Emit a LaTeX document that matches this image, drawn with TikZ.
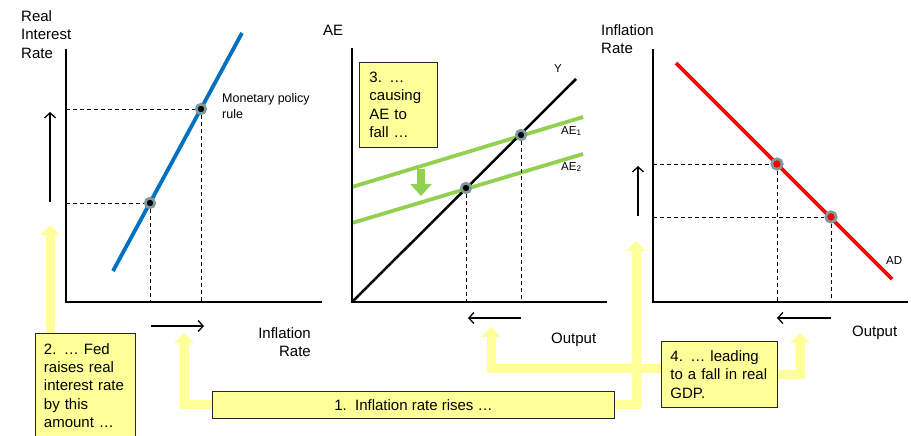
\documentclass[tikz,border=0pt]{standalone}
\usepackage{fontspec}
\setmainfont{Liberation Sans}
\usetikzlibrary{arrows.meta,positioning}
\definecolor{notefill}{HTML}{FFFF99}
\definecolor{notelink}{HTML}{FFFF99}
\definecolor{ruleblue}{HTML}{0070C0}
\definecolor{aegreen}{HTML}{92D050}
\definecolor{ringgray}{HTML}{7F9A9C}
\tikzset{
	axis/.style={line width=2pt},
	curve/.style={line width=3.8pt},
	guide/.style={line width=0.8pt, dash pattern=on 4pt off 3pt},
	moveshift/.style={line width=1.3pt, -{Straight Barb[length=5pt,width=11pt]}},
	link/.style={notelink, line width=9pt, -{Triangle[length=10pt,width=19pt]}},
	drop/.style={aegreen, line width=8pt, -{Triangle[length=12pt,width=21pt]}},
	note/.style={draw=black!85, fill=notefill, line width=0.9pt, align=left, font=\fontsize{15}{18.3}\selectfont},
	dot/.style={circle, fill=black, draw=ringgray, line width=2.7pt, inner sep=0pt, minimum size=9.5pt},
	reddot/.style={dot, fill=red, minimum size=10.5pt},
	lbl/.style={inner sep=0pt, font=\fontsize{15}{18.5}\selectfont},
	small/.style={inner sep=0pt, font=\fontsize{12.5}{16}\selectfont, align=left},
	tiny/.style={inner sep=0pt, font=\fontsize{11.5}{14}\selectfont},
}
\begin{document}
\begin{tikzpicture}[x=1pt,y=-1pt]
	\useasboundingbox (0,0) rectangle (911,436);
	% rate panel
	\coordinate (O1) at (66,302);
	\coordinate (T1) at (66,49);
	\coordinate (E1) at (322,302);
	\coordinate (MPa) at (113,271);
	\coordinate (MPb) at (242,33);
	\draw [curve, ruleblue] (MPa)--(MPb);
	\draw [axis] (T1)--(O1)--(E1);
	\node [dot] (A1) at (150,203) {};
	\node [dot] (B1) at (201,109) {};
	\draw [guide] (O1 |- A1)--(A1) (A1)--(A1 |- O1);
	\draw [guide] (O1 |- B1)--(B1) (B1)--(B1 |- O1);
	\node [lbl, anchor=north west, align=left] (ylab1) at (21,10) {Real\\Interest\\Rate};
	\node [lbl, anchor=north east, align=right] (xlab1) at (311,327) {Inflation\\Rate};
	\node [small, anchor=north west] (mpr) at (222,93) {Monetary policy\\rule};
	\coordinate (up1a) at (50,202);  \coordinate (up1b) at (50,112);
	\coordinate (rt1a) at (151,326); \coordinate (rt1b) at (204,326);
	\draw [moveshift] (up1a)--(up1b);
	\draw [moveshift] (rt1a)--(rt1b);
	% spending panel
	\coordinate (O2) at (352,302);
	\coordinate (T2) at (352,48);
	\coordinate (E2) at (607,302);
	\coordinate (Y2) at (576,79);
	\coordinate (AEa) at (352,187); \coordinate (AEb) at (583,117);
	\coordinate (AEc) at (352,223); \coordinate (AEd) at (583,154);
	\draw [curve, aegreen] (AEa)--(AEb) (AEc)--(AEd);
	\draw [line width=2.5pt] (O2)--(Y2);
	\draw [axis] (T2)--(O2)--(E2);
	\node [dot] (A2) at (521,135) {};
	\node [dot] (B2) at (466,188) {};
	\draw [guide] (A2)--(A2 |- O2) (B2)--(B2 |- O2);
	\node [lbl, anchor=north west] (ylab2) at (323,25) {AE};
	\node [tiny, anchor=north west] (ylab) at (554,64) {Y};
	\node [tiny, anchor=north west] (ae1) at (561,126) {AE\textsubscript{1}};
	\node [tiny, anchor=north west] (ae2) at (561,162) {AE\textsubscript{2}};
	\node [lbl, anchor=north west] (xlab2) at (551,333) {Output};
	\coordinate (lf2a) at (521,318); \coordinate (lf2b) at (468,318);
	\draw [moveshift] (lf2a)--(lf2b);
	\coordinate (dropa) at (421,169); \coordinate (dropb) at (421,196);
	\draw [drop] (dropa)--(dropb);
	% demand panel
	\coordinate (O3) at (653,302);
	\coordinate (T3) at (653,49);
	\coordinate (E3) at (908,302);
	\coordinate (ADa) at (676,63);
	\coordinate (ADb) at (892,279);
	\draw [curve, red] (ADa)--(ADb);
	\draw [axis] (T3)--(O3)--(E3);
	\node [reddot] (A3) at (777,164) {};
	\node [reddot] (B3) at (831,217) {};
	\draw [guide] (O3 |- A3)--(A3) (A3)--(A3 |- O3);
	\draw [guide] (O3 |- B3)--(B3) (B3)--(B3 |- O3);
	\node [lbl, anchor=north west, align=left] (ylab3) at (601,24) {Inflation\\Rate};
	\node [tiny, anchor=north west] (adlab) at (886,256) {AD};
	\node [lbl, anchor=north west] (xlab3) at (852,326) {Output};
	\coordinate (up3a) at (638,216); \coordinate (up3b) at (638,166);
	\coordinate (lf3a) at (831,318); \coordinate (lf3b) at (777,318);
	\draw [moveshift] (up3a)--(up3b);
	\draw [moveshift] (lf3a)--(lf3b);
	% notes
	\node [note, align=center, anchor=north west, minimum width=402, minimum height=27, inner sep=0pt] (n1) at (212,391) {1.\ \ Inflation rate rises …};
	\node [note, anchor=north west, text width=83, inner xsep=8.5pt, inner ysep=10pt] (n2) at (35,333) {2. … Fed\\raises real\\interest rate\\by this\\amount …};
	\node [note, anchor=north west, text width=58, minimum height=85, inner xsep=10pt] (n3) at (359,62) {3. …\\causing\\AE to\\fall …};
	\node [note, anchor=north west, text width=98, minimum height=66, inner xsep=9pt] (n4) at (661,341) {4. … leading\\to a fall in real\\GDP.};
	\coordinate (tip1) at (184,333);
	\coordinate (tip2) at (636,241);
	\coordinate (tip3) at (50,225);
	\coordinate (tip4) at (491,327);
	\coordinate (tip5) at (800,333);
	\draw [link] (n1.west) -| (tip1);
	\draw [link] (n1.east) -| (tip2);
	\draw [link] (tip3 |- n2.north) -- (tip3);
	\draw [link] ([yshift=6pt]n4.west) -| (tip4);
	\draw [link] (n4.east) -| (tip5);
\end{tikzpicture}
\end{document}
